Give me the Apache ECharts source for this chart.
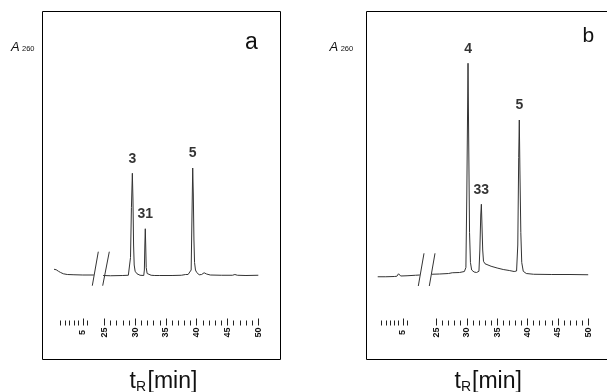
<!DOCTYPE html>
<html>
<head>
<meta charset="utf-8">
<script src="https://cdn.jsdelivr.net/npm/echarts@6.0.0/dist/echarts.min.js"></script>
<style>
  html, body { margin: 0; padding: 0; background: #fff; }
  #chart { width: 607px; height: 392px; }
</style>
</head>
<body>
<div id="chart"></div>
<script type="text/javascript">
	// chromatogram traces [t (min), A260 (arbitrary units)]
	var traceA_left = [[-1.5, 10.3], [-1.0, 10.1], [-0.5, 9.5], [0, 9.0], [0.6, 8.5], [1.5, 8.2], [3, 8.1], [5, 8.0], [7.5, 8.0]];
	var traceA_right = [
		[24.8, 7.8], [26, 7.7], [28, 7.8], [28.9, 7.9], [29.1, 8.2], [29.25, 15], [29.4, 35], [29.55, 48.7],
		[29.65, 38], [29.75, 20], [29.85, 12], [30.0, 9.5], [30.3, 8.5], [30.8, 7.9],
		[31.4, 7.8], [31.5, 10], [31.58, 20], [31.65, 26.5], [31.72, 20], [31.8, 11], [31.95, 8.6], [32.2, 7.8],
		[32.6, 7.9], [32.9, 8.7], [33.2, 7.8], [34, 7.8], [36, 7.8], [37.5, 7.9], [38.2, 8.2], [38.4, 9.0], [38.6, 8.2],
		[38.9, 8.0], [39.1, 10], [39.22, 30], [39.35, 50.8], [39.45, 40], [39.55, 22], [39.65, 13], [39.8, 10],
		[40.0, 9.0], [40.4, 8.1], [40.8, 8.2], [41.2, 8.9], [41.6, 8.4], [42.2, 8.0], [44, 7.9], [45.8, 7.9],
		[46.2, 8.2], [46.6, 7.9], [48, 7.8], [50, 7.9]
	];
	var traceB_left = [[-0.9, 7.3], [1, 7.3], [3, 7.4], [3.6, 7.5], [3.8, 8.2], [4.0, 8.5], [4.2, 8.0], [4.5, 7.6], [6, 7.7], [8, 7.9], [9, 8.0]];
	var traceB_right = [
		[24.2, 8.3], [25.5, 8.4], [27, 8.6], [27.6, 8.9], [27.9, 8.7], [28.8, 9.0], [29.6, 9.4], [29.85, 11],
		[30.0, 40], [30.2, 92.7], [30.32, 60], [30.45, 25], [30.6, 13], [30.8, 10], [31.2, 9.2], [31.6, 9.0],
		[32.0, 9.5], [32.15, 18], [32.3, 32], [32.4, 36.3], [32.5, 28], [32.62, 18], [32.75, 13.5], [33.0, 12.5],
		[34, 11.5], [35, 10.8], [36, 10.2], [37, 9.8], [37.8, 9.4], [38.2, 9.6], [38.4, 20], [38.55, 55],
		[38.65, 70], [38.75, 50], [38.9, 25], [39.05, 13], [39.3, 9.5], [39.8, 8.6], [41, 8.3], [44, 8.2],
		[47, 8.2], [50, 8.1]
	];

	// peak labels
	var peakNamesA = ['3', '31', '5'];
	var peakTimesA = [29.55, 31.65, 39.35];
	var peakHeightsA = [48.7, 26.5, 50.8];
	var peakNamesB = ['4', '33', '5'];
	var peakTimesB = [30.2, 32.4, 38.65];
	var peakHeightsB = [92.7, 36.3, 70];

	// tick values
	var leftMajor = [5];
	var leftMinor = [0, 1, 2, 3, 4, 6];
	var rightMajor = [25, 30, 35, 40, 45, 50];
	var rightMinor = [26, 27, 28, 29, 31, 32, 33, 34, 36, 37, 38, 39, 41, 42, 43, 44, 46, 47, 48, 49];

	var FONT = '"Liberation Sans", Arial, Helvetica, sans-serif';
	var LINE = '#333';

	function peaks(names, times, heights) {
		return names.map(function (n, i) { return { value: [times[i], heights[i]], name: n }; });
	}

	// x axes: for each grid one axis with the long ticks + labels, one with short ticks
	function xAxes(g, min, max, major, minor) {
		var base = {
			gridIndex: g, type: 'value', min: min, max: max, position: 'bottom',
			axisLine: { show: false, onZero: false }, splitLine: { show: false }
		};
		return [
			Object.assign({}, base, {
				axisTick: { show: true, inside: true, length: 7, customValues: major, lineStyle: { color: '#222', width: 1 } },
				axisLabel: {
					customValues: major, rotate: 90, align: 'center', verticalAlign: 'middle', margin: 7,
					fontSize: 9, fontWeight: 'bold', color: '#111', fontFamily: FONT
				}
			}),
			Object.assign({}, base, {
				axisTick: { show: true, inside: true, length: 5, customValues: minor, lineStyle: { color: '#222', width: 1 } },
				axisLabel: { show: false }
			})
		];
	}

	// grid bottom is the tick row (y = 325.5); y runs 2.5 px per unit
	var grids = [
		{ left: 54, width: 42.1, top: 45, height: 280.5 },      // a, 0-8 min
		{ left: 103.1, width: 155.2, top: 45, height: 280.5 },  // a, 25-50 min
		{ left: 377.3, width: 44.6, top: 45, height: 280.5 },   // b, 0-9 min
		{ left: 431.6, width: 156.6, top: 45, height: 280.5 }   // b, 25-50 min
	];

	var xAxis = [].concat(
		xAxes(0, -1.5, 8, leftMajor, leftMinor),
		xAxes(1, 24.8, 50, rightMajor, rightMinor),
		xAxes(2, -1, 9.5, leftMajor, leftMinor),
		xAxes(3, 24.2, 50, rightMajor, rightMinor)
	);

	var yAxis = [0, 1, 2, 3].map(function (g) {
		return { gridIndex: g, type: 'value', min: -12.2, max: 100, show: false };
	});

	function trace(g, data) {
		return {
			type: 'line', xAxisIndex: g * 2, yAxisIndex: g, data: data, showSymbol: false, symbol: 'none',
			lineStyle: { color: LINE, width: 1 }, animation: false, silent: true
		};
	}
	function labels(g, data) {
		return {
			type: 'scatter', xAxisIndex: g * 2, yAxisIndex: g, data: data, symbolSize: 1,
			itemStyle: { color: 'rgba(0,0,0,0)' }, animation: false, silent: true,
			label: {
				show: true, position: 'top', distance: 7, formatter: '{b}',
				fontSize: 14, fontWeight: 'bold', color: '#000', fontFamily: FONT
			}
		};
	}

	function txt(x, y, s, size, extra) {
		return {
			type: 'text', silent: true,
			style: Object.assign({ x: x, y: y, text: s, fill: '#111', font: size + 'px ' + FONT, verticalAlign: 'middle', align: 'left' }, extra || {})
		};
	}
	function slash(x1, y1, x2, y2) {
		return { type: 'line', silent: true, shape: { x1: x1, y1: y1, x2: x2, y2: y2 }, style: { stroke: LINE, lineWidth: 1 } };
	}

	var graphic = [
		// frames (panel b runs off the right edge)
		{ type: 'rect', silent: true, shape: { x: 42.5, y: 11.5, width: 238, height: 348 }, style: { fill: 'none', stroke: '#000', lineWidth: 1 } },
		{ type: 'polyline', silent: true, shape: { points: [[640, 11.5], [366.5, 11.5], [366.5, 359.5], [640, 359.5]] }, style: { fill: 'none', stroke: '#000', lineWidth: 1 } },
		// axis breaks
		slash(98.3, 251.7, 92.3, 285.7), slash(109.3, 251.7, 102.7, 285.7),
		slash(424, 253.3, 418.3, 286), slash(435, 253.3, 429.3, 286),
		// panel letters
		txt(245, 42.3, 'a', 23),
		txt(582.5, 36.2, 'b', 21),
		// A260
		txt(11, 47.3, 'A', 13, { font: 'italic 13px ' + FONT }),
		txt(22, 48.9, '260', 7.5),
		txt(329.5, 47.3, 'A', 13, { font: 'italic 13px ' + FONT }),
		txt(340.7, 48.9, '260', 7.5),
		// tR[min]
		txt(129.5, 381.5, 't', 23), txt(136, 387.6, 'R', 14), txt(147.5, 381.5, '[min]', 23),
		txt(454.5, 381.5, 't', 23), txt(461, 387.6, 'R', 14), txt(472, 381.5, '[min]', 23)
	];

	var myChart = echarts.init(document.getElementById('chart'), null, { renderer: 'canvas' });
	var option = {
		backgroundColor: '#fff',
		animation: false,
		grid: grids,
		xAxis: xAxis,
		yAxis: yAxis,
		series: [
			trace(0, traceA_left),
			trace(1, traceA_right),
			trace(2, traceB_left),
			trace(3, traceB_right),
			labels(1, peaks(peakNamesA, peakTimesA, peakHeightsA)),
			labels(3, peaks(peakNamesB, peakTimesB, peakHeightsB))
		],
		graphic: graphic
	};
	myChart.setOption(option);
</script>
</body>
</html>
